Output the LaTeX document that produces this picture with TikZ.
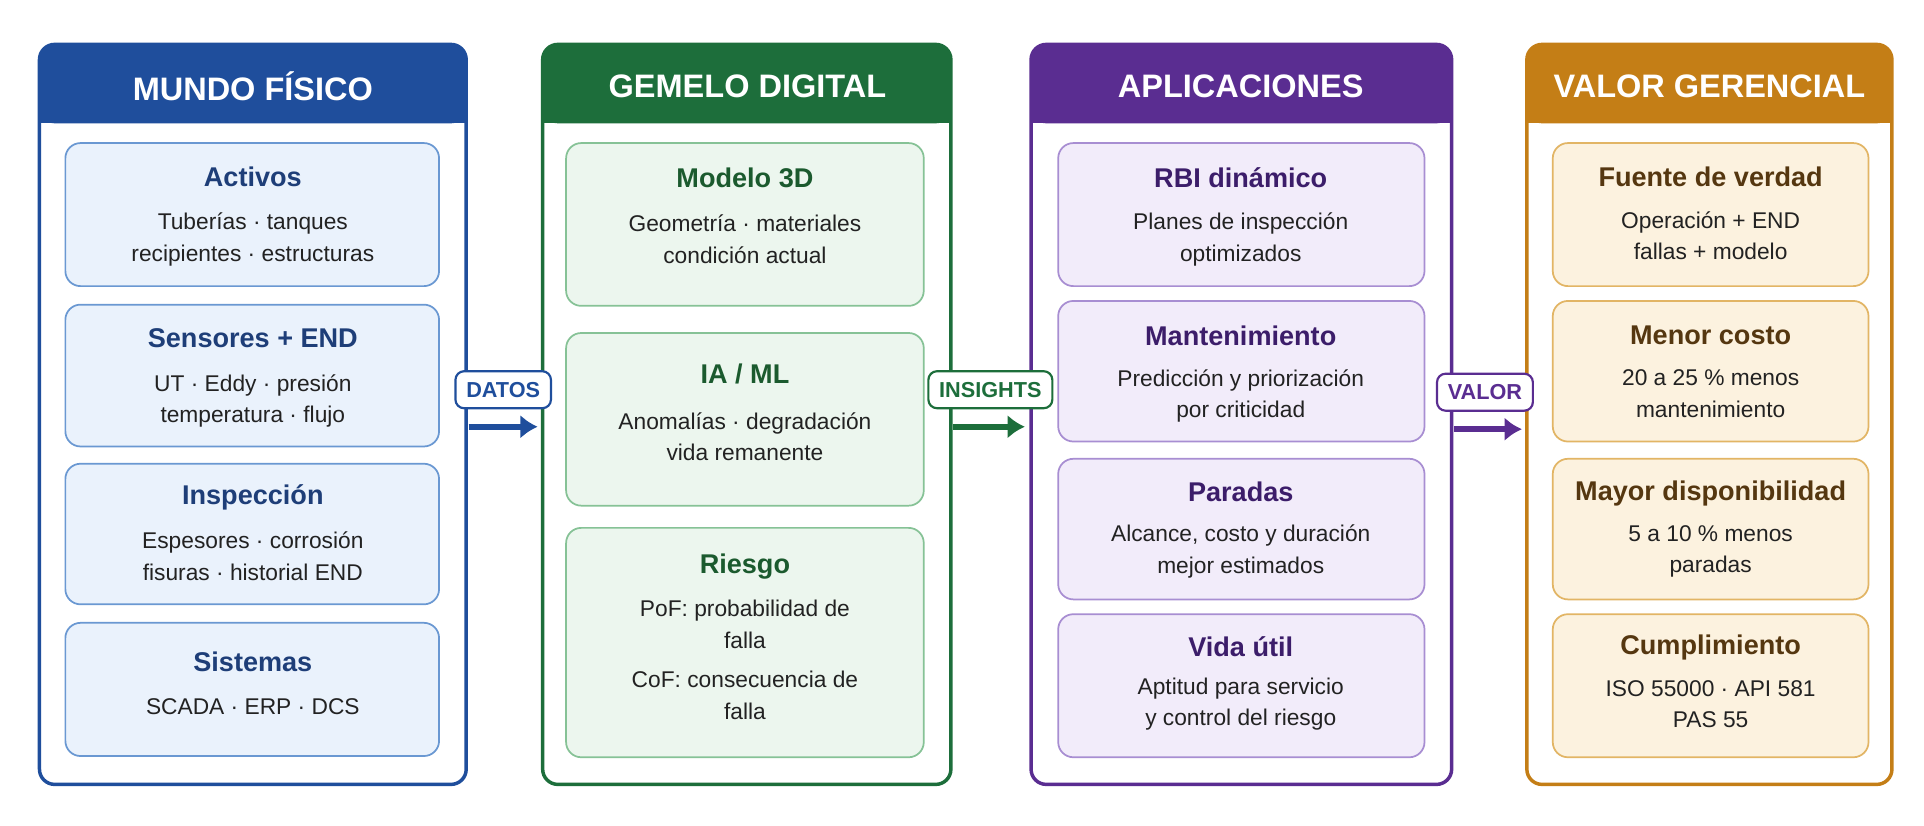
\documentclass[tikz,border=0pt]{standalone}
\usepackage{fontspec}
\setmainfont{Liberation Sans}
\usetikzlibrary{positioning,arrows.meta}
\definecolor{bluhdr}{HTML}{1F4E9C}
\definecolor{blucard}{HTML}{EAF2FC}
\definecolor{bluline}{HTML}{6A98D2}
\definecolor{blutxt}{HTML}{1E3E78}
\definecolor{grnhdr}{HTML}{1D6E3B}
\definecolor{grncard}{HTML}{ECF6EE}
\definecolor{grnline}{HTML}{86C296}
\definecolor{grntxt}{HTML}{1B5A2E}
\definecolor{purhdr}{HTML}{5A2D91}
\definecolor{purcard}{HTML}{F2ECFA}
\definecolor{purline}{HTML}{A88ED2}
\definecolor{purtxt}{HTML}{3C1D6A}
\definecolor{orghdr}{HTML}{C47E16}
\definecolor{orgcard}{HTML}{FCF2DF}
\definecolor{orgline}{HTML}{E2B565}
\definecolor{orgtxt}{HTML}{553710}
\definecolor{bodytxt}{HTML}{222222}

\begin{document}
\begin{tikzpicture}[x=0.02cm, y=-0.02cm,
    panel/.style={draw=#1, line width=1.6pt, fill=white, rounded corners=7pt},
    card/.style={draw=#1line, line width=0.8pt, fill=#1card, rounded corners=7pt},
    head/.style={text=white, font=\fontsize{15}{18}\selectfont\bfseries},
    ctitle/.style={text=#1txt, font=\fontsize{12.5}{15}\selectfont\bfseries},
    cbody/.style={text=bodytxt, align=center, font=\fontsize{10.5}{14.6}\selectfont},
    tag/.style={draw=#1, line width=1pt, fill=white, rounded corners=4pt, text=#1,
        font=\fontsize{10}{12}\selectfont\bfseries, inner xsep=5pt, inner ysep=5pt},
    flow/.style={draw=#1, line width=2.6pt, -{Latex[length=8pt,width=11pt]}}]
\useasboundingbox (0,0) rectangle (1560,669);

% Mundo fisico
\draw[panel=bluhdr] (32,36) rectangle (378,636);
\fill[bluhdr, rounded corners=7pt] (32,36) rectangle (378,100);
\fill[bluhdr] (32,80) rectangle (378,100);
\node[head] (h1) at (205,70) {MUNDO FÍSICO};
\draw[card=blu] (53,116) rectangle (356,232);
\node[ctitle=blu] (activos) at (205,143) {Activos};
\node[cbody] (activosb) at (205,194) {Tuberías · tanques\\recipientes · estructuras};
\draw[card=blu] (53,247) rectangle (356,362);
\node[ctitle=blu] (sensores) at (205,274) {Sensores + END};
\node[cbody] (sensoresb) at (205,325) {UT · Eddy · presión\\temperatura · flujo};
\draw[card=blu] (53,376) rectangle (356,490);
\node[ctitle=blu] (inspeccion) at (205,403) {Inspección};
\node[cbody] (inspeccionb) at (205,451) {Espesores · corrosión\\fisuras · historial END};
\draw[card=blu] (53,505) rectangle (356,613);
\node[ctitle=blu] (sistemas) at (205,537) {Sistemas};
\node[cbody] (sistemasb) at (205,573) {SCADA · ERP · DCS};

% Gemelo digital
\draw[panel=grnhdr] (440,36) rectangle (771,636);
\fill[grnhdr, rounded corners=7pt] (440,36) rectangle (771,100);
\fill[grnhdr] (440,80) rectangle (771,100);
\node[head] (h2) at (606,70) {GEMELO DIGITAL};
\draw[card=grn] (459,116) rectangle (749,248);
\node[ctitle=grn] (modelo) at (604,144) {Modelo 3D};
\node[cbody] (modelob) at (604,194) {Geometría · materiales\\condición actual};
\draw[card=grn] (459,270) rectangle (749,410);
\node[ctitle=grn] (ia) at (604,303) {IA / ML};
\node[cbody] (iab) at (604,354) {Anomalías · degradación\\vida remanente};
\draw[card=grn] (459,428) rectangle (749,614);
\node[ctitle=grn] (riesgo) at (604,459) {Riesgo};
\node[cbody] (pof) at (604,506) {PoF: probabilidad de\\falla};
\node[cbody] (cof) at (604,564) {CoF: consecuencia de\\falla};

% Aplicaciones
\draw[panel=purhdr] (836,36) rectangle (1177,636);
\fill[purhdr, rounded corners=7pt] (836,36) rectangle (1177,100);
\fill[purhdr] (836,80) rectangle (1177,100);
\node[head] (h3) at (1006,70) {APLICACIONES};
\draw[card=pur] (858,116) rectangle (1155,232);
\node[ctitle=pur] (rbi) at (1006,144) {RBI dinámico};
\node[cbody] (rbib) at (1006,194) {Planes de inspección\\optimizados};
\draw[card=pur] (858,244) rectangle (1155,358);
\node[ctitle=pur] (mant) at (1006,272) {Mantenimiento};
\node[cbody] (mantb) at (1006,321) {Predicción y priorización\\por criticidad};
\draw[card=pur] (858,372) rectangle (1155,486);
\node[ctitle=pur] (paradas) at (1006,399) {Paradas};
\node[cbody] (paradasb) at (1006,447) {Alcance, costo y duración\\mejor estimados};
\draw[card=pur] (858,498) rectangle (1155,614);
\node[ctitle=pur] (vida) at (1006,524) {Vida útil};
\node[cbody] (vidab) at (1006,571) {Aptitud para servicio\\y control del riesgo};

% Valor gerencial
\draw[panel=orghdr] (1238,36) rectangle (1534,636);
\fill[orghdr, rounded corners=7pt] (1238,36) rectangle (1534,100);
\fill[orghdr] (1238,80) rectangle (1534,100);
\node[head] (h4) at (1386,70) {VALOR GERENCIAL};
\draw[card=org] (1259,116) rectangle (1515,232);
\node[ctitle=org] (fuente) at (1387,143) {Fuente de verdad};
\node[cbody] (fuenteb) at (1387,191) {Operación + END\\fallas + modelo};
\draw[card=org] (1259,244) rectangle (1515,358);
\node[ctitle=org] (costo) at (1387,272) {Menor costo};
\node[cbody] (costob) at (1387,319) {20 a 25 \% menos\\mantenimiento};
\draw[card=org] (1259,372) rectangle (1515,486);
\node[ctitle=org] (dispon) at (1387,400) {Mayor disponibilidad};
\node[cbody] (disponb) at (1387,447) {5 a 10 \% menos\\paradas};
\draw[card=org] (1259,498) rectangle (1515,614);
\node[ctitle=org] (cumpl) at (1387,525) {Cumplimiento};
\node[cbody] (cumplb) at (1387,571) {ISO 55000 · API 581\\PAS 55};

% flechas entre paneles
\node[tag=bluhdr] (datos) at (408,316) {DATOS};
\coordinate (d1) at (380,346); \coordinate (d2) at (436,346);
\draw[flow=bluhdr] (d1) -- (d2);
\node[tag=grnhdr] (insights) at (803,316) {INSIGHTS};
\coordinate (i1) at (773,346); \coordinate (i2) at (831,346);
\draw[flow=grnhdr] (i1) -- (i2);
\node[tag=purhdr] (valor) at (1204,318) {VALOR};
\coordinate (v1) at (1179,348); \coordinate (v2) at (1234,348);
\draw[flow=purhdr] (v1) -- (v2);
\end{tikzpicture}
\end{document}
